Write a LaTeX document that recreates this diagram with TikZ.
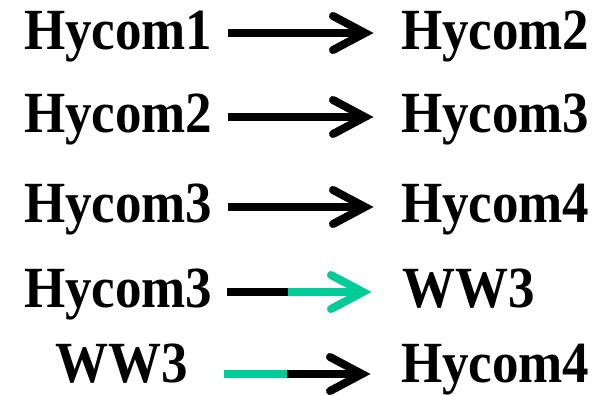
\documentclass[tikz,border=0pt]{standalone}
\usepackage{fontspec}
\setmainfont{Liberation Serif}
\definecolor{wgreen}{RGB}{0,204,153}
\tikzset{
  lbl/.style={inner sep=0pt, outer sep=0pt, anchor=base west, font=\fontsize{53}{60}\selectfont\bfseries},
  shaft/.style={line width=8pt, line cap=butt},
  head/.style={line width=8pt, line cap=round, line join=miter},
}
\newcommand{\tall}[1]{\scalebox{1}[1.1]{#1}}
\begin{document}
\begin{tikzpicture}[x=1pt,y=-1pt]
\useasboundingbox[fill=white] (0,0) rectangle (603,396);
% row 1
\node[lbl] (l1) at (24,50) {\tall{Hycom1}};
\node[lbl] (r1) at (401,50) {\tall{Hycom2}};
\coordinate (s1) at (228,33); \coordinate (e1) at (365,33);
\draw[shaft] (s1) -- ([xshift=-4pt]e1);
\draw[head] ([shift={(-32,-17)}]e1) -- (e1) -- ([shift={(-32,17)}]e1);
% row 2
\node[lbl] (l2) at (24,132) {\tall{Hycom2}};
\node[lbl] (r2) at (401,132) {\tall{Hycom3}};
\coordinate (s2) at (228,117); \coordinate (e2) at (365,117);
\draw[shaft] (s2) -- ([xshift=-4pt]e2);
\draw[head] ([shift={(-32,-17)}]e2) -- (e2) -- ([shift={(-32,17)}]e2);
% row 3
\node[lbl] (l3) at (24,222) {\tall{Hycom3}};
\node[lbl] (r3) at (401,222) {\tall{Hycom4}};
\coordinate (s3) at (228,207); \coordinate (e3) at (365,207);
\draw[shaft] (s3) -- ([xshift=-4pt]e3);
\draw[head] ([shift={(-32,-17)}]e3) -- (e3) -- ([shift={(-32,17)}]e3);
% row 4
\node[lbl] (l4) at (24,307) {\tall{Hycom3}};
\node[lbl] (r4) at (402,307) {\tall{WW3}};
\coordinate (s4) at (227,292); \coordinate (m4) at (288,292); \coordinate (e4) at (363,292);
\draw[shaft] (s4) -- (m4);
\draw[shaft, wgreen] (m4) -- ([xshift=-4pt]e4);
\draw[head, wgreen] ([shift={(-32,-17)}]e4) -- (e4) -- ([shift={(-32,17)}]e4);
% row 5
\node[lbl] (l5) at (56,382) {\tall{WW3}};
\node[lbl] (r5) at (401,382) {\tall{Hycom4}};
\coordinate (s5) at (224,374); \coordinate (m5) at (287,374); \coordinate (e5) at (362,374);
\draw[shaft, wgreen] (s5) -- (m5);
\draw[shaft] (m5) -- ([xshift=-4pt]e5);
\draw[head] ([shift={(-32,-17)}]e5) -- (e5) -- ([shift={(-32,17)}]e5);
\end{tikzpicture}
\end{document}
